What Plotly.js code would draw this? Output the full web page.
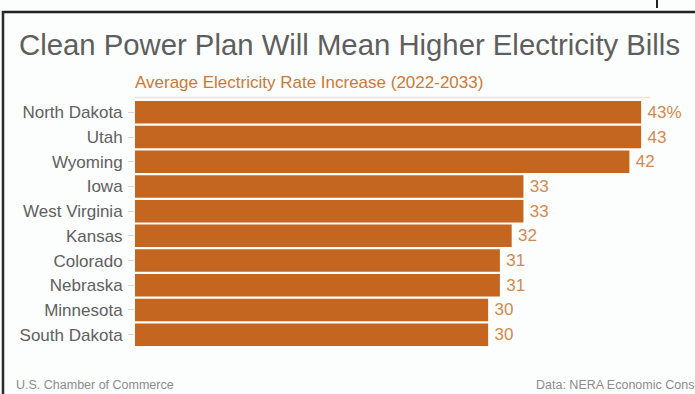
<!DOCTYPE html>
<html>
<head>
<meta charset="utf-8">
<script src="https://cdn.plot.ly/plotly-3.0.1.min.js"></script>
<style>
  html, body { margin: 0; padding: 0; background: #fcfdfd; }
  #chart { width: 695px; height: 394px; }
</style>
</head>
<body>
<div id="chart"></div>
<script>
// Data
const states = ["North Dakota", "Utah", "Wyoming", "Iowa", "West Virginia", "Kansas", "Colorado", "Nebraska", "Minnesota", "South Dakota"];
const rateIncrease = [43, 43, 42, 33, 33, 32, 31, 31, 30, 30];
const valueLabels = ["43%", "43", "42", "33", "33", "32", "31", "31", "30", "30"];

const titleText = "Clean Power Plan Will Mean Higher Electricity Bills";
const subtitleText = "Average Electricity Rate Increase (2022-2033)";
const sourceLeft = "U.S. Chamber of Commerce";
const sourceRight = "Data: NERA Economic Consulting";

// Layout geometry (pixels)
const W = 695, H = 394;
const mL = 135, mR = 15, mT = 100, mB = 47;
const plotW = W - mL - mR, plotH = H - mT - mB;
const px = x => (x - mL) / plotW;
const py = y => (H - mB - y) / plotH;

const FONT = "Liberation Sans, Arial, Helvetica, sans-serif";

const trace = {
  type: "bar",
  orientation: "h",
  y: states,
  x: rateIncrease,
  text: valueLabels.map(t => "\u2009" + t),
  textposition: "outside",
  cliponaxis: false,
  textfont: { family: FONT, size: 17, color: "#d08a50" },
  marker: { color: "#c4661f", line: { width: 0 } },
  hoverinfo: "skip"
};

const layout = {
  width: W,
  height: H,
  margin: { l: mL, r: mR, t: mT, b: mB, pad: 0 },
  paper_bgcolor: "#fcfdfd",
  plot_bgcolor: "#fcfdfd",
  bargap: 0.09,
  showlegend: false,
  font: { family: FONT, color: "#5a5a5a" },
  title: {
    text: titleText,
    font: { family: FONT, size: 29.3, color: "#5e5e5e" },
    xref: "container", x: 19 / W, xanchor: "left",
    yref: "container", y: 1 - 45 / H, yanchor: "middle"
  },
  xaxis: {
    range: [0, 46.3],
    visible: false,
    showgrid: false,
    zeroline: false,
    fixedrange: true
  },
  yaxis: {
    type: "category",
    autorange: "reversed",
    showgrid: false,
    zeroline: false,
    showline: false,
    ticks: "outside",
    ticklen: 6,
    tickwidth: 1,
    tickcolor: "#d6d6d6",
    ticklabelstandoff: 2,
    tickfont: { family: FONT, size: 17, color: "#606060" },
    fixedrange: true
  },
  annotations: [
    {
      text: subtitleText, xref: "paper", yref: "paper",
      x: px(133), y: py(82), xanchor: "left", yanchor: "middle",
      showarrow: false, font: { family: FONT, size: 17, color: "#c97a38" }
    },
    {
      text: sourceLeft, xref: "paper", yref: "paper",
      x: px(14), y: py(385), xanchor: "left", yanchor: "middle",
      showarrow: false, font: { family: FONT, size: 12.5, color: "#8c8c8c" }
    },
    {
      text: sourceRight, xref: "paper", yref: "paper",
      x: px(534), y: py(385), xanchor: "left", yanchor: "middle",
      showarrow: false, font: { family: FONT, size: 12.5, color: "#8c8c8c" }
    }
  ],
  shapes: [
    { type: "line", xref: "paper", yref: "paper",
      x0: px(2), x1: px(695), y0: py(12), y1: py(12),
      line: { color: "#222222", width: 2.5 } },
    { type: "line", xref: "paper", yref: "paper",
      x0: px(3), x1: px(3), y0: py(11), y1: py(394),
      line: { color: "#2a2a2a", width: 2.5 } },
    { type: "line", xref: "paper", yref: "paper",
      x0: px(657), x1: px(657), y0: py(0), y1: py(8),
      line: { color: "#222222", width: 2 } },
    { type: "line", xref: "paper", yref: "paper",
      x0: px(135), x1: px(650), y0: py(97.5), y1: py(97.5),
      line: { color: "#f6e2cf", width: 1.5 } }
  ]
};

Plotly.newPlot("chart", [trace], layout, { displayModeBar: false, staticPlot: true });
</script>
</body>
</html>
